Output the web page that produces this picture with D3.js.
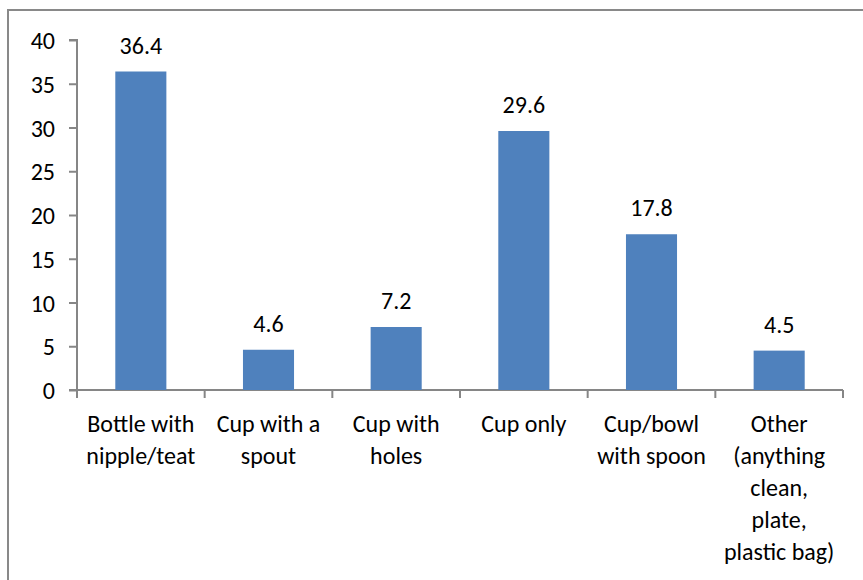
<!DOCTYPE html>
<html>
<head>
<meta charset="utf-8">
<script src="https://cdn.jsdelivr.net/npm/d3@7"></script>
<style>
  html, body { margin: 0; padding: 0; background: #fff; overflow: hidden; }
  svg { display: block; }
  text { font-family: Carlito, Lato, "Open Sans", sans-serif; fill: #000; }
</style>
</head>
<body>
<svg id="chart" width="863" height="580"></svg>
<script>
// Feeding method categories (each entry is the wrapped label lines)
const categories = [
  ["Bottle with", "nipple/teat"],
  ["Cup with a", "spout"],
  ["Cup with", "holes"],
  ["Cup only"],
  ["Cup/bowl", "with spoon"],
  ["Other", "(anything", "clean,", "plate,", "plastic bag)"]
];
const values = [36.4, 4.6, 7.2, 29.6, 17.8, 4.5];
const yTicks = [0, 5, 10, 15, 20, 25, 30, 35, 40];

const svg = d3.select("#chart");
const axisColor = "#868686";
const barColor = "#4F81BD";
const fontSize = 24;

// Outer chart frame
svg.append("rect")
  .attr("x", 8).attr("y", 10)
  .attr("width", 900).attr("height", 600)
  .attr("fill", "#fff")
  .attr("stroke", "#898989")
  .attr("stroke-width", 2);

const keys = categories.map((d, i) => i);
const x = d3.scaleBand().domain(keys).range([77, 843]).paddingInner(0).paddingOuter(0);
const y = d3.scaleLinear().domain([0, 40]).range([390, 40]);

// Y axis
const yAxis = svg.append("g")
  .attr("transform", "translate(77,0)")
  .call(d3.axisLeft(y).tickValues(yTicks).tickSize(8).tickPadding(14).tickFormat(d3.format("d")));
yAxis.select(".domain").attr("stroke", axisColor).attr("stroke-width", 2)
  .attr("d", `M-8,${y(40)}H0V398`);
yAxis.selectAll(".tick line").attr("stroke", axisColor).attr("stroke-width", 2);
yAxis.selectAll(".tick text")
  .attr("font-size", fontSize)
  .attr("font-family", "Carlito, Lato, 'Open Sans', sans-serif")
  .attr("fill", "#000")
  .attr("dy", "0.36em");

// X axis baseline with ticks at category boundaries
const bounds = keys.map(k => x(k)).concat([x.range()[1]]);
const xAxis = svg.append("g");
xAxis.append("line")
  .attr("x1", 69).attr("x2", x.range()[1])
  .attr("y1", y(0)).attr("y2", y(0))
  .attr("stroke", axisColor).attr("stroke-width", 2);
xAxis.selectAll("line.tick")
  .data(bounds)
  .join("line")
  .attr("class", "tick")
  .attr("x1", d => d).attr("x2", d => d)
  .attr("y1", y(0)).attr("y2", y(0) + 8)
  .attr("stroke", axisColor).attr("stroke-width", 2);

// Bars
const barW = x.bandwidth() * 0.4;
svg.append("g").selectAll("rect")
  .data(values)
  .join("rect")
  .attr("x", (d, i) => x(i) + (x.bandwidth() - barW) / 2)
  .attr("y", d => y(d))
  .attr("width", barW)
  .attr("height", d => y(0) - y(d))
  .attr("fill", barColor);

// Value labels above bars
svg.append("g").selectAll("text")
  .data(values)
  .join("text")
  .attr("x", (d, i) => x(i) + x.bandwidth() / 2)
  .attr("y", d => y(d) - 18)
  .attr("text-anchor", "middle")
  .attr("font-size", fontSize)
  .text(d => d.toFixed(1));

// Category labels (wrapped)
const lineH = 32;
const labels = svg.append("g").selectAll("text")
  .data(categories)
  .join("text")
  .attr("text-anchor", "middle")
  .attr("font-size", fontSize);
labels.selectAll("tspan")
  .data((d, i) => d.map(t => ({ t, i })))
  .join("tspan")
  .attr("x", d => x(d.i) + x.bandwidth() / 2)
  .attr("y", (d, j) => 432 + j * lineH)
  .text(d => d.t);
</script>
</body>
</html>
